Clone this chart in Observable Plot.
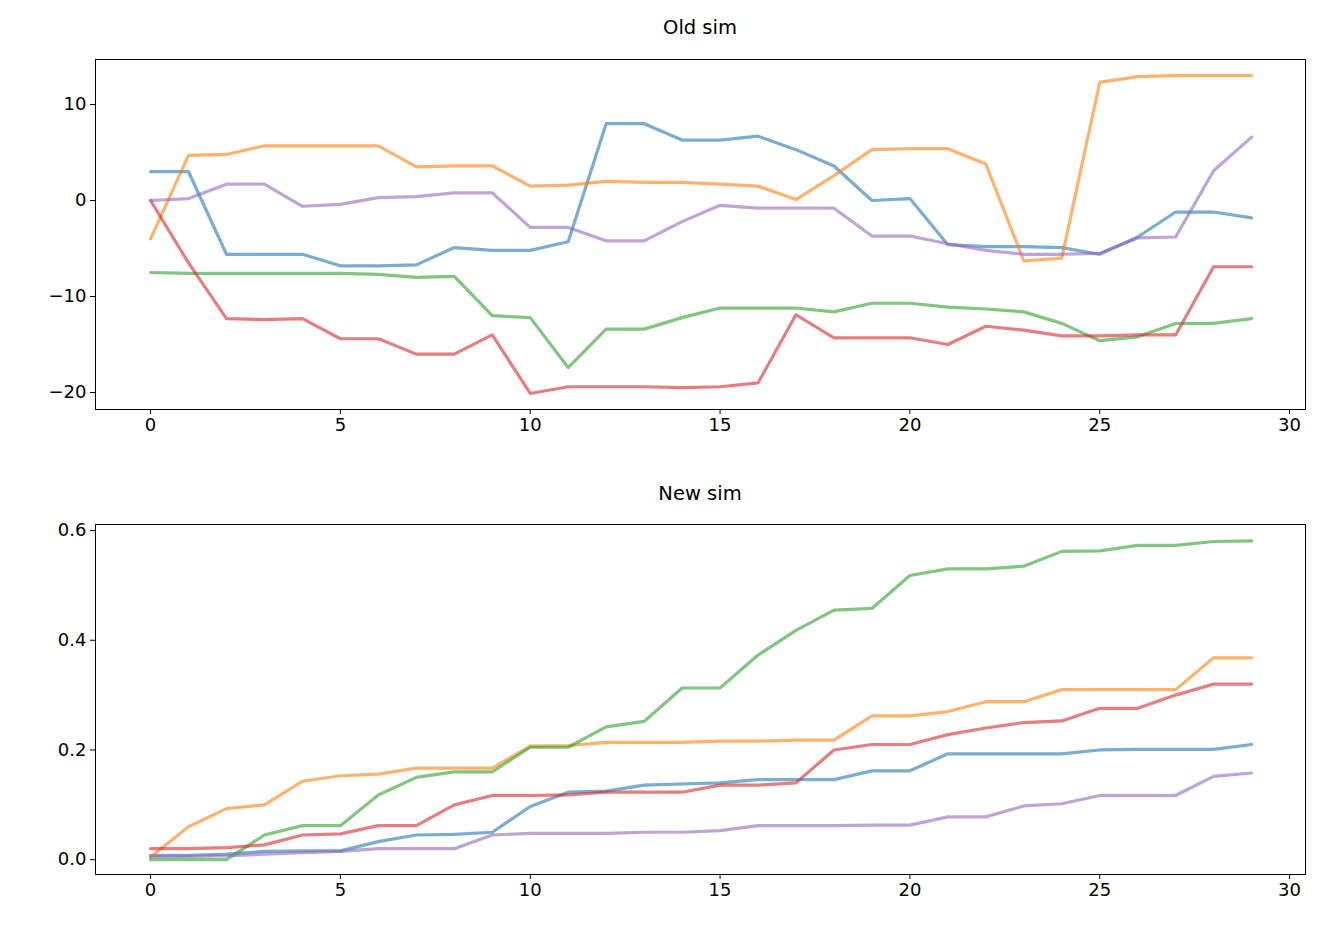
<!DOCTYPE html>
<html><head><meta charset="utf-8">
<script src="https://cdn.jsdelivr.net/npm/d3@7"></script>
<script src="https://cdn.jsdelivr.net/npm/@observablehq/plot@0.6"></script>
<style>
body{margin:0;background:#fff;font-family:"DejaVu Sans",sans-serif;}
#wrap{position:relative;width:1324px;height:940px;}
.panel{position:absolute;left:0;z-index:1;}
.title{position:absolute;left:95px;width:1210px;text-align:center;font-size:19.5px;color:#000;z-index:2;}
</style></head><body>
<div id="wrap">
<div class="title" style="top:16px">Old sim</div>
<div class="panel" id="p1" style="top:0"></div>
<div class="title" style="top:482px">New sim</div>
<div class="panel" id="p2" style="top:465px"></div>
</div>
<script>
const steps = d3.range(30);
const colors = ["#1f77b4","#ff7f0e","#2ca02c","#d62728","#9467bd"];
const xTicks = [0,5,10,15,20,25,30];

const oldBlue   = [3.0,3.0,-5.6,-5.6,-5.6,-6.8,-6.8,-6.7,-4.9,-5.2,-5.2,-4.3,8.0,8.0,6.3,6.3,6.7,5.3,3.6,0.0,0.2,-4.6,-4.8,-4.8,-4.9,-5.6,-3.8,-1.2,-1.2,-1.8];
const oldOrange = [-4.0,4.7,4.8,5.7,5.7,5.7,5.7,3.5,3.6,3.6,1.5,1.6,2.0,1.9,1.9,1.7,1.5,0.1,2.6,5.3,5.4,5.4,3.8,-6.3,-6.0,12.3,12.9,13.0,13.0,13.0];
const oldGreen  = [-7.5,-7.6,-7.6,-7.6,-7.6,-7.6,-7.7,-8.0,-7.9,-12.0,-12.2,-17.4,-13.4,-13.4,-12.2,-11.2,-11.2,-11.2,-11.6,-10.7,-10.7,-11.1,-11.3,-11.6,-12.8,-14.6,-14.2,-12.8,-12.8,-12.3];
const oldRed    = [0,-6.5,-12.3,-12.4,-12.3,-14.4,-14.4,-16.0,-16.0,-14.0,-20.1,-19.4,-19.4,-19.4,-19.5,-19.4,-19.0,-11.9,-14.3,-14.3,-14.3,-15.0,-13.1,-13.5,-14.1,-14.1,-14.0,-14.0,-6.9,-6.9];
const oldPurple = [0.0,0.2,1.7,1.7,-0.6,-0.4,0.3,0.4,0.8,0.8,-2.8,-2.8,-4.2,-4.2,-2.2,-0.5,-0.8,-0.8,-0.8,-3.7,-3.7,-4.5,-5.2,-5.6,-5.6,-5.5,-3.9,-3.8,3.1,6.6];

const newBlue   = [0.008,0.008,0.01,0.015,0.016,0.016,0.033,0.045,0.046,0.05,0.097,0.123,0.125,0.136,0.138,0.14,0.146,0.146,0.146,0.162,0.162,0.193,0.193,0.193,0.193,0.2,0.201,0.201,0.201,0.21];
const newOrange = [0.005,0.06,0.093,0.1,0.143,0.153,0.156,0.167,0.167,0.167,0.207,0.208,0.214,0.214,0.214,0.216,0.216,0.218,0.218,0.262,0.262,0.27,0.288,0.288,0.31,0.31,0.31,0.31,0.368,0.368];
const newGreen  = [0,0,0,0.045,0.062,0.062,0.118,0.15,0.16,0.16,0.205,0.205,0.242,0.252,0.313,0.313,0.373,0.418,0.455,0.458,0.518,0.53,0.53,0.535,0.562,0.563,0.573,0.573,0.58,0.581];
const newRed    = [0.02,0.02,0.022,0.027,0.045,0.047,0.062,0.062,0.1,0.117,0.117,0.118,0.123,0.123,0.123,0.136,0.136,0.14,0.2,0.21,0.21,0.228,0.24,0.25,0.253,0.276,0.276,0.3,0.32,0.32];
const newPurple = [0.005,0.006,0.007,0.01,0.013,0.015,0.02,0.02,0.02,0.045,0.048,0.048,0.048,0.05,0.05,0.053,0.062,0.062,0.062,0.063,0.063,0.078,0.078,0.098,0.102,0.117,0.117,0.117,0.152,0.158];

function panel(series, yDomain, yTicks, yFmt){
  const marks = [Plot.frame({stroke:"#000",strokeWidth:1})];
  series.forEach((s,i)=>{
    marks.push(Plot.line(steps,{x:d=>d,y:d=>s[d],stroke:colors[i],strokeOpacity:0.6,strokeWidth:3.2}));
  });
  marks.push(Plot.axisX(xTicks,{tickSize:5,tickPadding:4,fontSize:18,label:null}));
  marks.push(Plot.axisY(yTicks,{tickSize:5,tickPadding:4,fontSize:18,label:null,tickFormat:yFmt}));
  return Plot.plot({
    width:1324,height:445,
    marginTop:59,marginBottom:36,marginLeft:95,marginRight:19,
    style:{fontFamily:"DejaVu Sans",color:"#000",background:"transparent"},
    x:{domain:[-1.45,30.42]},
    y:{domain:yDomain},
    marks
  });
}
document.getElementById("p1").append(panel([oldBlue,oldOrange,oldGreen,oldRed,oldPurple],[-21.77,14.69],[-20,-10,0,10],d=>d<0?"\u2212"+Math.abs(d):String(d)));
document.getElementById("p2").append(panel([newBlue,newOrange,newGreen,newRed,newPurple],[-0.027,0.611],[0,0.2,0.4,0.6],d3.format(".1f")));
</script>
</body></html>
